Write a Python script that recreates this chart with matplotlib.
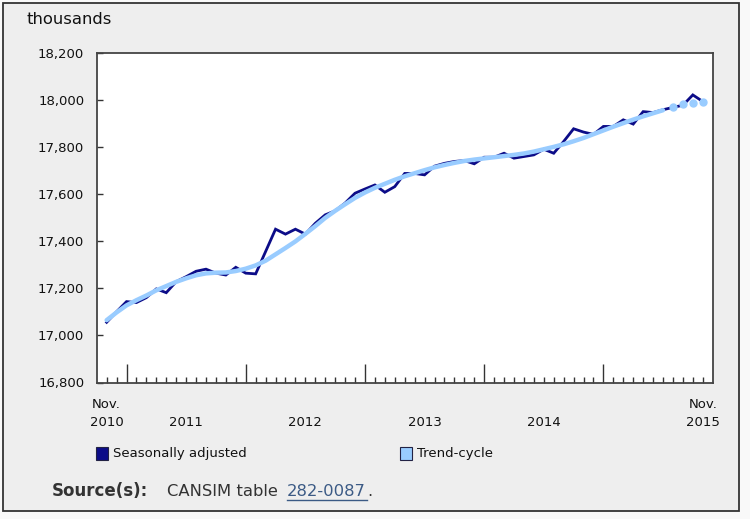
import matplotlib
matplotlib.use("Agg")
import matplotlib.pyplot as plt
from matplotlib.patches import Rectangle
from matplotlib.lines import Line2D
import matplotlib.transforms as mtransforms

# ---------------- data ----------------
months = ["Nov 2010", "Dec 2010"] + [f"{m} {y}" for y in range(2011, 2016) for m in
          ["Jan", "Feb", "Mar", "Apr", "May", "Jun", "Jul", "Aug", "Sep", "Oct", "Nov", "Dec"]]
months = months[:61]

seasonally_adjusted = [
    17056, 17101, 17144, 17140, 17161, 17198, 17182, 17229, 17250, 17273,
    17282, 17265, 17257, 17290, 17265, 17262, 17357, 17452, 17431, 17452,
    17431, 17477, 17513, 17530, 17563, 17605, 17623, 17640, 17609, 17633,
    17689, 17689, 17683, 17720, 17732, 17740, 17744, 17730, 17758, 17758,
    17775, 17754, 17761, 17768, 17792, 17775, 17825, 17879, 17865, 17855,
    17889, 17889, 17917, 17899, 17952, 17948, 17960, 17970, 17979, 18023,
    17995,
]

trend_cycle = [
    17065, 17098, 17128, 17150, 17170, 17192, 17210, 17228, 17243, 17256,
    17264, 17267, 17268, 17274, 17284, 17298, 17318, 17345, 17372, 17400,
    17432, 17465, 17500, 17530, 17558, 17585, 17608, 17628, 17645, 17662,
    17677, 17690, 17703, 17715, 17725, 17734, 17742, 17748, 17753, 17758,
    17763, 17768, 17774, 17782, 17792, 17802, 17813, 17826, 17840, 17856,
    17872, 17888, 17903, 17918, 17932, 17945, 17958, 17972, 17983, 17990,
    17995,
]

y_ticks = [16800, 17000, 17200, 17400, 17600, 17800, 18000, 18200]
year_labels = ["2011", "2012", "2013", "2014"]
year_label_months = ["Jul 2011", "Jul 2012", "Jul 2013", "Jul 2014"]
jan_months = ["Jan 2011", "Jan 2012", "Jan 2013", "Jan 2014", "Jan 2015"]
n_provisional = 4  # last trend-cycle points shown as dots

NAVY = "#0c0c88"
LIGHT = "#99ccff"

# ---------------- figure ----------------
W, H = 750, 519
fig = plt.figure(figsize=(W / 100, H / 100), dpi=100, facecolor="#f9f9f9")

def fx(px):
    return px / W

def fy(py):
    return 1 - py / H

fig.patches.append(Rectangle((fx(3), fy(511)), fx(739) - fx(3), fy(3) - fy(511),
                             transform=fig.transFigure, facecolor="#eeeeee",
                             edgecolor="#333333", lw=1.3, zorder=-10))

left, right, top, bottom = 96.7, 712.7, 53.3, 382.5
ax = fig.add_axes([fx(left), fy(bottom), fx(right) - fx(left), fy(top) - fy(bottom)])
ax.set_facecolor("white")

x = list(range(len(months)))
idx = {m: i for i, m in enumerate(months)}

ax.plot(x, seasonally_adjusted, color=NAVY, lw=2.0, zorder=3, solid_joinstyle="miter")
n_solid = len(trend_cycle) - n_provisional
ax.plot(x[:n_solid], trend_cycle[:n_solid], color=LIGHT, lw=3.2, zorder=4,
        solid_capstyle="round")
ax.plot(x[n_solid:], trend_cycle[n_solid:], linestyle="none", marker="o",
        ms=5, color=LIGHT, mec=LIGHT, zorder=4)

ax.set_xlim(-1, len(months))
ax.set_ylim(y_ticks[0], y_ticks[-1])
ax.set_yticks(y_ticks)
ax.set_yticklabels([f"{v:,}" for v in y_ticks])

ax.set_xticks([idx[m] for m in jan_months])
ax.set_xticks(x, minor=True)
ax.set_xticklabels([])
ax.tick_params(axis="x", which="major", direction="in", length=14, width=1.0,
               color="#333333")
ax.tick_params(axis="x", which="minor", direction="in", length=4.5, width=1.0,
               color="#333333")
ax.tick_params(axis="y", which="major", direction="in", length=4.5, width=1.0,
               color="#333333", labelsize=9.5, pad=9, labelcolor="#111111")

for s in ax.spines.values():
    s.set_color("#444444")
    s.set_linewidth(1.3)

# x tick labels
trans = mtransforms.blended_transform_factory(ax.transData, fig.transFigure)
for lab, m in zip(year_labels, year_label_months):
    ax.text(idx[m], fy(423), lab, transform=trans, ha="center", va="center",
            fontsize=9.5, color="#111111")
for i in (0, len(months) - 1):
    mon, yr = months[i].split()
    ax.text(i, fy(405), mon + ".", transform=trans, ha="center", va="center",
            fontsize=9.5, color="#111111")
    ax.text(i, fy(423), yr, transform=trans, ha="center", va="center",
            fontsize=9.5, color="#111111")

fig.text(fx(27), fy(20), "thousands", ha="left", va="center", fontsize=11.8,
         color="#111111")

# legend
def legend_item(px, color, label):
    fig.patches.append(Rectangle((fx(px), fy(460)), fx(12), 13 / H,
                                 transform=fig.transFigure, facecolor=color,
                                 edgecolor="#222244", lw=0.8))
    fig.text(fx(px + 17), fy(453.5), label, ha="left", va="center", fontsize=9.5,
             color="#111111")

legend_item(96, NAVY, "Seasonally adjusted")
legend_item(400, LIGHT, "Trend-cycle")

# source line
fig.text(fx(52), fy(491), "Source(s):", ha="left", va="center", fontsize=12,
         fontweight="bold", color="#333333")
fig.text(fx(167), fy(491), "CANSIM table", ha="left", va="center", fontsize=11.8,
         color="#333333")
fig.text(fx(287), fy(491), "282-0087", ha="left", va="center", fontsize=11.8,
         color="#3b5a85")
fig.add_artist(Line2D([fx(287), fx(367)], [fy(500), fy(500)], color="#3b5a85",
                      lw=1.0, transform=fig.transFigure))
fig.text(fx(367), fy(491), ".", ha="left", va="center", fontsize=11.8,
         color="#333333")

fig.savefig("out.png", dpi=100, facecolor=fig.get_facecolor())
